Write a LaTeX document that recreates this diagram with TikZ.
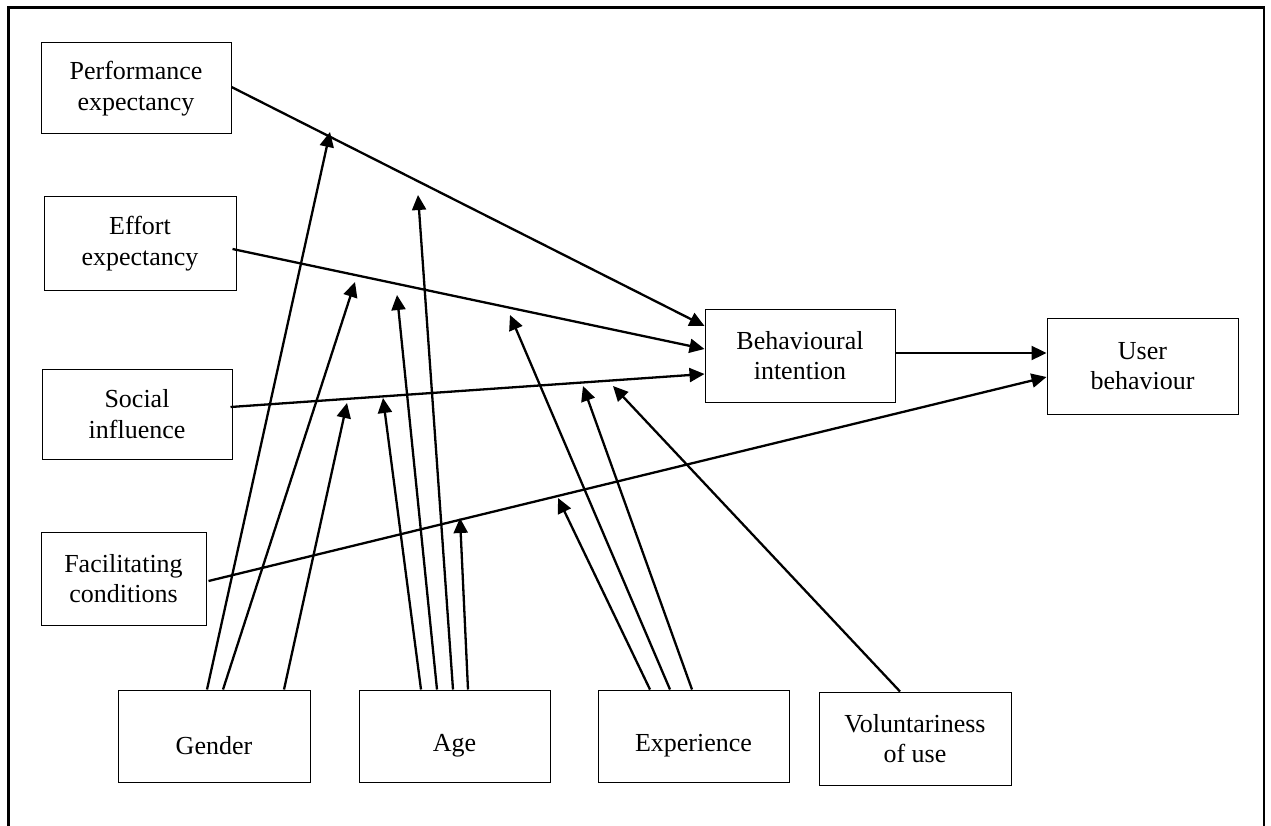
\documentclass[tikz,border=0pt]{standalone}
\usepackage{fontspec}
\setmainfont{Liberation Serif}
\usetikzlibrary{arrows.meta}
\tikzset{
  box/.style={draw, line width=1pt, align=center, inner sep=2pt},
  conn/.style={line width=2.3pt, -{Triangle[length=15pt,width=14pt]}},
  frame/.style={line width=2.7pt}
}
\newcommand{\low}[1]{\raisebox{-10pt}[\height][\depth]{#1}}
\begin{document}
\begin{tikzpicture}[x=1pt,y=-1pt, font=\fontsize{26}{30.5}\selectfont]
\useasboundingbox (0,0) rectangle (1271,826);
\draw[frame] (8.5,826) -- (8.5,7.5) -- (1264,7.5) -- (1264,826);

% boxes
\node[box, minimum width=190pt, minimum height=91pt] (perf) at (136,88.5) {Performance\\expectancy};
\node[box, minimum width=192pt, minimum height=93pt] (effort) at (140,243.5) {Effort\\expectancy};
\node[box, minimum width=190pt, minimum height=90pt] (social) at (137,414) {Social\\influence};
\node[box, minimum width=165pt, minimum height=93pt] (facil) at (123.5,578.5) {Facilitating\\conditions};
\node[box, minimum width=190pt, minimum height=93pt] (bi) at (800,355.5) {Behavioural\\intention};
\node[box, minimum width=191pt, minimum height=96pt] (ub) at (1142.5,366) {User\\behaviour};
\node[box, minimum width=192pt, minimum height=92pt] (gender) at (214,736) {\low{Gender}};
\node[box, minimum width=191pt, minimum height=92pt] (age) at (454.5,736) {\low{Age}};
\node[box, minimum width=191pt, minimum height=92pt] (exp) at (693.5,736) {\low{Experience}};
\node[box, minimum width=192pt, minimum height=93pt] (vol) at (915,738.5) {Voluntariness\\of use};

% tips of moderating arrows
\coordinate (tPE1) at (330,132);
\coordinate (tPE2) at (418,195);
\coordinate (tEE1) at (355,282);
\coordinate (tEE2) at (397,295);
\coordinate (tEE3) at (510,315);
\coordinate (tSI1) at (347,403);
\coordinate (tSI2) at (383,398);
\coordinate (tSI3) at (583,386);
\coordinate (tSI4) at (613,386);
\coordinate (tFC1) at (460,518);
\coordinate (tFC2) at (558,498);

% main paths
\draw[conn] ([yshift=1.5pt]perf.east) -- ([yshift=29.5pt]bi.west);
\draw[conn] ([xshift=-4pt,yshift=-5.5pt]effort.east) -- ([yshift=6.5pt]bi.west);
\draw[conn] ([xshift=-2pt,yshift=7pt]social.east) -- ([yshift=-18.5pt]bi.west);
\draw[conn] ([xshift=2pt,yshift=-2.5pt]facil.east) -- ([yshift=-11pt]ub.west);
\draw[conn] ([yshift=2.5pt]bi.east) -- ([yshift=13pt]ub.west);

% gender
\draw[conn] ([xshift=-7pt]gender.north) -- (tPE1);
\draw[conn] ([xshift=9pt]gender.north) -- (tEE1);
\draw[conn] ([xshift=70pt]gender.north) -- (tSI1);
% age
\draw[conn] ([xshift=-33.5pt]age.north) -- (tSI2);
\draw[conn] ([xshift=-17.5pt]age.north) -- (tEE2);
\draw[conn] ([xshift=-1.5pt]age.north) -- (tPE2);
\draw[conn] ([xshift=13.5pt]age.north) -- (tFC1);
% experience
\draw[conn] ([xshift=-43.5pt]exp.north) -- (tFC2);
\draw[conn] ([xshift=-23.5pt]exp.north) -- (tEE3);
\draw[conn] ([xshift=-1.5pt]exp.north) -- (tSI3);
% voluntariness
\draw[conn] ([xshift=-15pt]vol.north) -- (tSI4);
\end{tikzpicture}
\end{document}
